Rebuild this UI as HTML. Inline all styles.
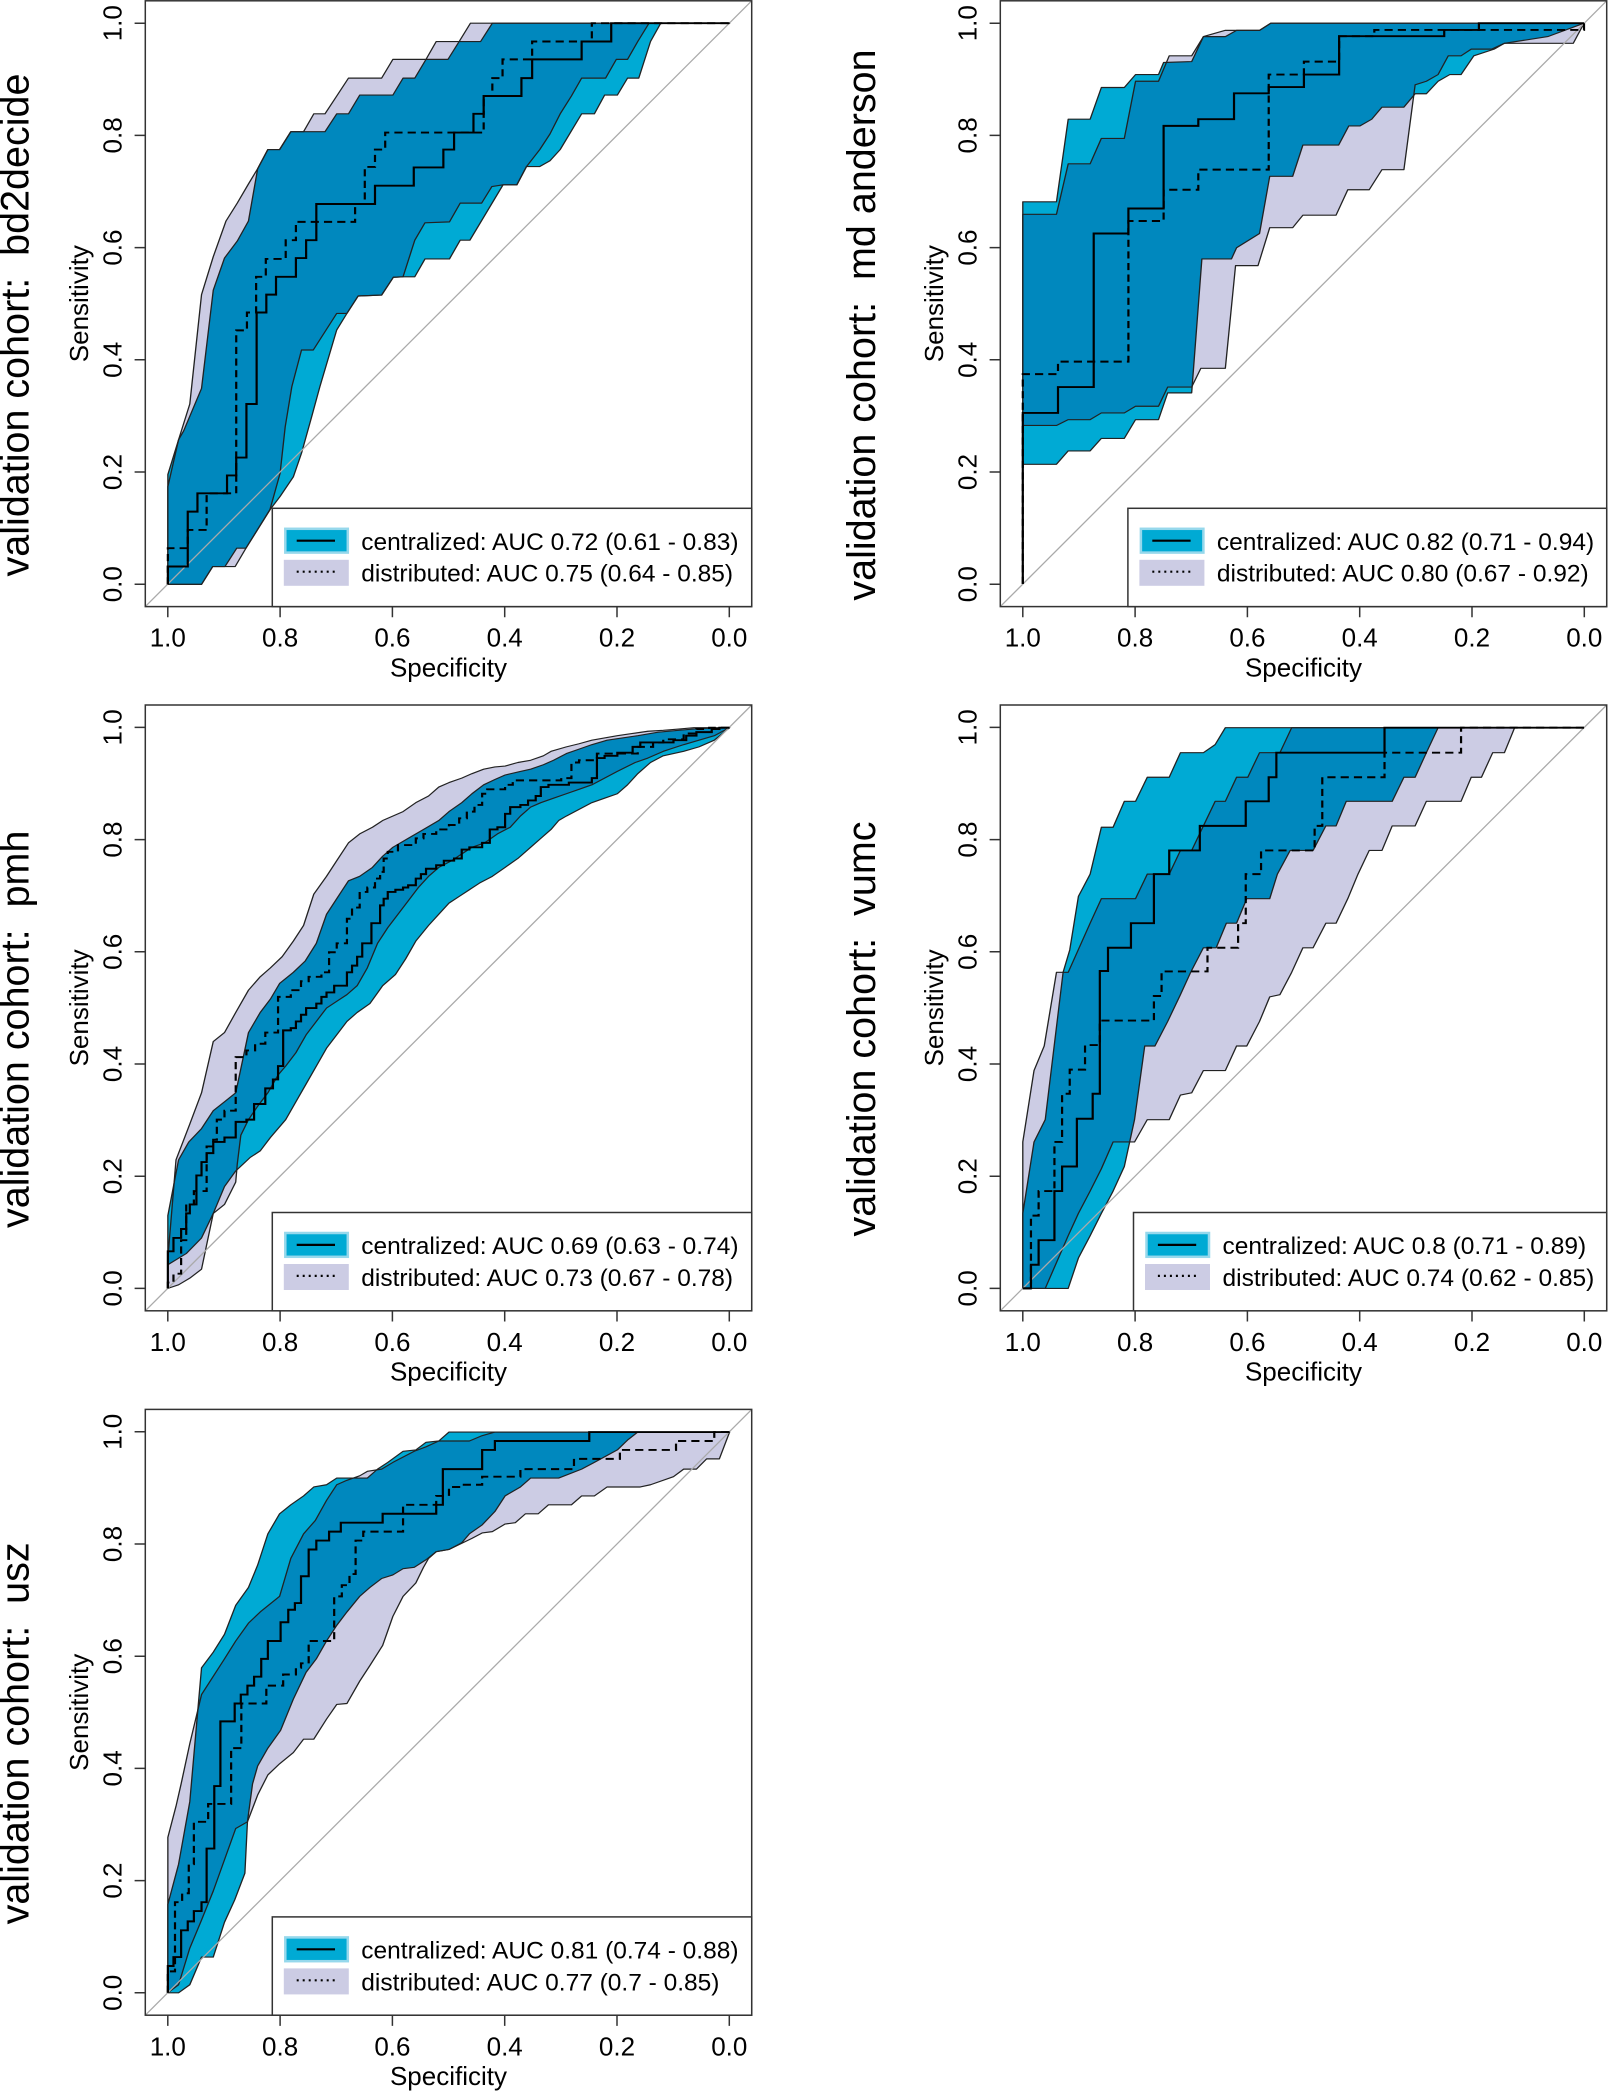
<!DOCTYPE html>
<html>
<head>
<meta charset="utf-8">
<style>
html,body{margin:0;padding:0;background:#fff;}
svg{display:block;}
text{font-family:"Liberation Sans",Arial,sans-serif;fill:#000;}
.tk{font-size:26px;}
.lg{font-size:24.5px;}
.big{font-size:39.5px;}
.bl{fill:none;stroke:#222;stroke-width:2.6;stroke-linejoin:round;}
.sl{fill:none;stroke:#000;stroke-width:4.3;}
.dl{fill:none;stroke:#000;stroke-width:4.3;stroke-dasharray:16 10;}
.lav{fill:#CCCCE4;}
.cya{fill:#00AAD4;}
.drk{fill:#0088BE;}
</style>
</head>
<body>
<svg width="1608" height="2091" viewBox="0 0 1608 2091" xmlns="http://www.w3.org/2000/svg">
<rect x="0" y="0" width="1608" height="2091" fill="#fff"/>
<defs>
<polygon id="c1" points="329,1063 350,985 360,965 395,870 418,650 440,578 465,540 487,495 505,378 525,335 548,335 570,295 637,295 660,255 683,255 705,213 770,213 790,175 813,175 835,133 878,133 900,93 942,93 965,52 1430,52 1295,52 1275,93 1252,175 1230,175 1210,213 1185,213 1165,255 1140,255 1098,335 1078,360 1058,373 1032,373 1013,414 986,414 921,538 902,538 881,580 833,580 813,620 790,620 771,621 748,661 702,663 680,702 660,739 627,866 611,933 591,1015 575,1068 549,1112 529,1142 482,1228 464,1228 441,1269 417,1269 395,1309 329,1309"/>
<polygon id="l1" points="329,1309 329,1090 350,985 372,905 395,660 418,575 443,495 465,455 487,412 505,378 525,335 548,335 570,295 595,295 615,255 637,255 660,215 683,175 748,175 770,133 835,133 855,93 900,93 922,52 1430,52 1272,52 1250,93 1230,133 1208,133 1187,175 1140,175 1120,215 1098,255 1078,300 1058,335 1032,373 1013,414 986,414 964,418 944,455 902,455 881,497 833,499 813,538 790,620 771,621 748,661 702,663 680,702 660,702 614,784 591,784 572,866 559,956 549,1060 529,1142 482,1228 461,1269 417,1269 395,1309"/>
<polygon id="c2" points="421,1040 421,452 487,452 510,267 553,267 575,196 620,196 642,167 687,167 697,140 752,138 775,82 818,82 840,68 885,68 907,52 1521,52 1450,82 1365,97 1345,110 1305,125 1280,167 1258,167 1235,182 1212,210 1190,210 1168,240 1125,240 1105,267 1082,282 1060,282 1040,325 970,325 950,395 905,395 885,523 840,555 830,580 772,580 752,880 705,880 687,940 642,940 620,982 575,982 553,1010 510,1010 487,1040"/>
<polygon id="l2" points="421,953 421,480 487,480 510,367 553,367 575,310 620,310 642,182 687,182 708,125 752,125 775,82 818,68 885,68 907,52 1521,52 1500,97 1435,97 1365,97 1340,110 1300,110 1280,125 1255,125 1235,167 1212,182 1190,190 1168,380 1125,380 1100,425 1058,425 1035,482 970,482 950,510 905,510 882,595 838,595 818,825 770,825 752,867 705,867 687,910 642,910 620,925 575,925 553,940 510,940 487,953"/>
<polygon id="c3" points="329,1265 329,1155 350,1030 370,990 395,960 418,920 440,900 462,880 487,745 510,700 530,670 548,635 575,610 598,585 620,545 640,480 660,445 683,405 705,395 730,375 750,350 770,330 800,310 830,290 860,270 880,250 905,230 925,210 948,190 970,178 990,168 1020,160 1040,155 1065,145 1085,135 1110,120 1135,110 1160,100 1190,90 1220,85 1250,80 1290,72 1330,68 1370,64 1430,62 1400,90 1370,105 1340,115 1300,125 1275,140 1250,165 1230,190 1210,210 1185,220 1160,230 1135,245 1110,260 1095,270 1080,290 1060,310 1040,330 1015,355 990,375 965,395 940,410 920,425 900,440 880,455 860,480 840,505 815,540 795,580 775,615 750,640 725,680 700,700 680,720 660,750 640,780 620,820 600,860 580,900 560,940 530,980 510,1010 490,1025 462,1055 440,1090 418,1150 395,1205 365,1240"/>
<polygon id="l3" points="329,1318 329,1250 345,1030 372,950 395,880 418,765 440,745 462,700 487,650 510,620 530,600 553,575 575,540 595,505 615,435 640,395 660,360 683,320 705,300 730,285 750,270 790,250 815,230 840,215 860,195 880,185 905,175 925,165 948,155 970,150 990,148 1015,140 1040,135 1065,125 1080,115 1110,105 1135,98 1160,90 1185,85 1210,80 1240,75 1270,70 1300,68 1330,65 1360,62 1430,62 1400,80 1370,90 1340,100 1300,115 1270,130 1245,140 1210,160 1185,175 1160,190 1135,200 1110,210 1085,220 1060,230 1040,240 1020,260 1000,285 975,300 950,320 925,330 905,345 885,360 860,375 840,395 820,420 800,450 780,480 760,510 740,545 720,600 700,640 680,660 660,675 640,690 620,720 600,750 580,790 560,820 545,840 525,880 505,910 487,940 472,975 465,1040 462,1080 440,1130 418,1150 395,1275 372,1295 350,1310"/>
<polygon id="c4" points="421,1318 421,1150 443,990 465,940 500,610 513,560 530,440 553,390 575,285 598,285 620,227 642,227 665,173 708,173 730,118 775,118 798,100 818,62 1521,62 1235,62 1212,118 1190,173 1168,173 1145,227 1055,227 1035,282 1015,282 990,337 945,337 920,390 905,445 860,445 840,500 820,500 800,555 775,555 750,610 730,660 705,720 680,775 660,775 640,940 620,1045 598,1100 575,1150 553,1200 530,1250 510,1318"/>
<polygon id="l4" points="421,1318 421,990 443,830 463,775 487,610 510,610 553,500 575,445 642,445 665,390 708,390 730,337 752,337 775,282 798,227 818,227 840,173 862,173 885,118 925,118 948,62 1521,62 1385,62 1365,118 1342,118 1320,173 1300,173 1280,227 1212,227 1190,282 1145,282 1125,337 1100,337 1078,390 1058,445 1035,500 1015,500 990,555 970,555 948,610 925,660 905,665 885,720 860,775 840,775 818,830 775,830 752,880 730,885 708,940 665,940 640,990 598,990 575,1050 553,1100 530,1150 510,1200 465,1318"/>
<polygon id="c5" points="329,1348 329,1150 350,1060 372,920 395,620 418,585 440,545 462,480 487,440 505,390 525,320 548,275 570,255 595,235 615,215 640,210 660,195 720,195 740,175 760,160 790,135 815,132 835,115 860,112 880,92 1430,92 1250,92 1230,110 1210,132 1165,160 1140,175 1095,195 1040,195 1020,215 990,235 970,270 945,300 920,320 905,340 880,355 855,360 835,378 812,395 790,398 770,412 748,420 725,440 705,460 680,495 660,525 640,560 620,600 600,630 575,690 550,760 525,800 505,840 495,880 485,965 480,1080 460,1140 440,1190 418,1268 395,1268 372,1330 350,1348"/>
<polygon id="l5" points="329,1348 329,1000 345,930 355,880 372,790 395,680 440,600 462,560 487,520 510,495 548,460 570,375 595,320 618,290 640,245 660,210 680,200 705,190 720,180 748,175 770,160 812,135 835,125 860,112 920,112 945,100 970,92 1430,92 1410,152 1385,152 1365,175 1340,175 1320,192 1275,210 1255,215 1190,215 1165,235 1140,235 1120,255 1075,255 1055,275 1030,275 1010,295 990,298 965,315 945,318 925,330 880,355 855,360 840,375 830,395 815,430 790,460 770,505 750,570 725,615 705,650 680,700 660,702 640,735 615,780 595,780 575,810 548,835 525,860 505,905 485,965 462,980 440,1050 418,1120 395,1185 372,1248 350,1330"/>
<clipPath id="k1"><use href="#c1"/></clipPath>
<clipPath id="k2"><use href="#c2"/></clipPath>
<clipPath id="k3"><use href="#c3"/></clipPath>
<clipPath id="k4"><use href="#c4"/></clipPath>
<clipPath id="k5"><use href="#c5"/></clipPath>
</defs>

<!-- ============ PANEL 1 ============ -->
<g transform="translate(0,0) scale(0.5102,0.44643)">
<use href="#l1" class="lav"/>
<use href="#c1" class="cya"/>
<use href="#l1" class="drk" clip-path="url(#k1)"/>
<use href="#l1" class="bl"/>
<use href="#c1" class="bl"/>
</g>
<line x1="145.3" y1="606.6" x2="751.7" y2="0.8" stroke="#aaa" stroke-width="1.3"/>
<g transform="translate(0,0) scale(0.5102,0.44643)">
<path class="sl" d="M329,1309 V1269 H368 V1146 H387 V1105 H445 V1065 H463 V1025 H483 V905 H503 V700 H522 V660 H541 V620 H580 V578 H600 V538 H620 V457 H735 V416 H811 V375 H869 V335 H890 V297 H928 V255 H948 V215 H1022 V175 H1043 V133 H1140 V93 H1198 V52 H1430"/>
<path class="dl" d="M329,1309 V1228 H368 V1187 H405 V1105 H463 V740 H484 V700 H502 V620 H521 V580 H560 V538 H580 V497 H696 V457 H715 V374 H735 V335 H755 V297 H948 V215 H965 V175 H985 V133 H1043 V93 H1160 V52 H1430"/>
</g>

<!-- ============ PANEL 2 ============ -->
<g transform="translate(808,0) scale(0.5102,0.44643)">
<use href="#l2" class="lav"/>
<use href="#c2" class="cya"/>
<use href="#l2" class="drk" clip-path="url(#k2)"/>
<use href="#l2" class="bl"/>
<use href="#c2" class="bl"/>
</g>
<line x1="1000.3" y1="606.6" x2="1606.7" y2="0.8" stroke="#aaa" stroke-width="1.3"/>
<g transform="translate(808,0) scale(0.5102,0.44643)">
<path class="sl" d="M421,1308 V925 H490 V867 H560 V523 H628 V467 H697 V282 H765 V267 H835 V209 H903 V195 H972 V167 H1041 V81 H1247 V67 H1315 V52 H1521"/>
<path class="dl" d="M421,1308 V838 H490 V810 H628 V495 H697 V425 H765 V380 H903 V167 H972 V138 H1041 V81 H1110 V67 H1521 V52"/>
</g>

<!-- ============ PANEL 3 ============ -->
<g transform="translate(0,700) scale(0.5102,0.44643)">
<use href="#l3" class="lav"/>
<use href="#c3" class="cya"/>
<use href="#l3" class="drk" clip-path="url(#k3)"/>
<use href="#l3" class="bl"/>
<use href="#c3" class="bl"/>
</g>
<line x1="145.3" y1="1310.8" x2="751.7" y2="705.0" stroke="#aaa" stroke-width="1.3"/>
<g transform="translate(0,700) scale(0.5102,0.44643)">
<path class="sl" d="M329,1318 V1235 H340 V1205 H355 V1185 H365 V1150 H372 V1130 H385 V1065 H395 V1035 H405 V1015 H418 V990 H440 V980 H462 V945 H483 V940 H498 V905 H520 V870 H535 V850 H545 V820 H555 V740 H570 V735 H580 V720 H590 V705 H600 V690 H620 V680 H630 V665 H640 V655 H655 V640 H680 V610 H690 V595 H700 V575 H710 V545 H728 V500 H745 V460 H752 V445 H760 V430 H775 V425 H790 V420 H800 V415 H815 V400 H825 V390 H835 V378 H855 V370 H870 V360 H890 V355 H905 V335 H920 V330 H945 V320 H960 V290 H975 V285 H990 V255 H1000 V240 H1020 V235 H1035 V225 H1050 V215 H1060 V195 H1075 V190 H1115 V185 H1160 V175 H1170 V130 H1185 V125 H1210 V118 H1240 V105 H1255 V95 H1320 V90 H1345 V80 H1365 V72 H1395 V65 H1410 V62 H1430"/>
<path class="dl" d="M329,1318 V1305 H340 V1285 H355 V1210 H365 V1130 H380 V1100 H405 V1000 H418 V985 H425 V940 H440 V920 H462 V800 H483 V785 H500 V770 H520 V745 H545 V665 H570 V650 H590 V630 H605 V620 H630 V610 H645 V565 H660 V545 H680 V490 H690 V465 H705 V430 H720 V420 H735 V400 H745 V385 H752 V355 H760 V340 H780 V325 H815 V310 H830 V300 H855 V290 H880 V280 H900 V265 H915 V250 H930 V235 H945 V210 H955 V200 H990 V190 H1005 V180 H1100 V175 H1120 V140 H1135 V135 H1170 V120 H1250 V105 H1280 V95 H1300 V88 H1340 V75 H1365 V65 H1390 V62 H1430"/>
</g>

<!-- ============ PANEL 4 ============ -->
<g transform="translate(808,700) scale(0.5102,0.44643)">
<use href="#l4" class="lav"/>
<use href="#c4" class="cya"/>
<use href="#l4" class="drk" clip-path="url(#k4)"/>
<use href="#l4" class="bl"/>
<use href="#c4" class="bl"/>
</g>
<line x1="1000.3" y1="1310.8" x2="1606.7" y2="705.0" stroke="#aaa" stroke-width="1.3"/>
<g transform="translate(808,700) scale(0.5102,0.44643)">
<path class="sl" d="M421,1318 H437 V1265 H452 V1210 H483 V1100 H498 V1045 H527 V938 H558 V882 H572 V607 H588 V555 H633 V500 H678 V390 H708 V337 H768 V282 H858 V227 H903 V173 H918 V118 H1130 V62 H1521"/>
<path class="dl" d="M421,1318 H437 V1155 H452 V1100 H483 V990 H498 V882 H513 V828 H543 V773 H572 V718 H678 V663 H693 V608 H783 V555 H843 V500 H858 V390 H888 V337 H993 V282 H1008 V173 H1130 V118 H1280 V62 H1521"/>
</g>

<!-- ============ PANEL 5 ============ -->
<g transform="translate(0,1391) scale(0.5102,0.44643)">
<use href="#l5" class="lav"/>
<use href="#c5" class="cya"/>
<use href="#l5" class="drk" clip-path="url(#k5)"/>
<use href="#l5" class="bl"/>
<use href="#c5" class="bl"/>
</g>
<line x1="145.3" y1="2015.2" x2="751.7" y2="1409.4" stroke="#aaa" stroke-width="1.3"/>
<g transform="translate(0,1391) scale(0.5102,0.44643)">
<path class="sl" d="M329,1348 V1288 H340 V1268 H355 V1208 H368 V1188 H380 V1165 H395 V1145 H405 V1025 H420 V885 H432 V740 H460 V700 H472 V680 H485 V660 H498 V640 H512 V600 H525 V560 H550 V518 H565 V490 H578 V475 H590 V415 H605 V355 H620 V335 H645 V315 H668 V295 H750 V275 H855 V255 H868 V175 H945 V132 H970 V112 H1155 V92 H1430"/>
<path class="dl" d="M329,1348 V1300 H343 V1145 H357 V1125 H370 V1060 H380 V965 H408 V925 H453 V800 H473 V700 H522 V660 H555 V635 H580 V620 H590 V610 H605 V560 H655 V460 H670 V435 H685 V410 H697 V335 H712 V315 H790 V255 H855 V235 H880 V215 H905 V210 H945 V192 H1020 V175 H1125 V152 H1215 V132 H1325 V112 H1400 V92 H1430"/>
</g>

<!-- ============ FRAMES, AXES, TEXT ============ -->
<g fill="none" stroke="#333" stroke-width="1.5">
<rect x="145.3" y="0.8" width="606.4" height="605.8"/>
<rect x="1000.3" y="0.8" width="606.4" height="605.8"/>
<rect x="145.3" y="705.0" width="606.4" height="605.8"/>
<rect x="1000.3" y="705.0" width="606.4" height="605.8"/>
<rect x="145.3" y="1409.4" width="606.4" height="605.8"/>
</g>

<!-- ticks -->
<g stroke="#333" stroke-width="1.5">
<!-- x ticks P1/P3/P5 -->
<path d="M167.8,606.6V617.3 M280.1,606.6V617.3 M392.4,606.6V617.3 M504.7,606.6V617.3 M617,606.6V617.3 M729.3,606.6V617.3"/>
<path d="M167.8,1310.8V1321.5 M280.1,1310.8V1321.5 M392.4,1310.8V1321.5 M504.7,1310.8V1321.5 M617,1310.8V1321.5 M729.3,1310.8V1321.5"/>
<path d="M167.8,2015.2V2025.9 M280.1,2015.2V2025.9 M392.4,2015.2V2025.9 M504.7,2015.2V2025.9 M617,2015.2V2025.9 M729.3,2015.2V2025.9"/>
<!-- x ticks P2/P4 -->
<path d="M1022.8,606.6V617.3 M1135.1,606.6V617.3 M1247.4,606.6V617.3 M1359.7,606.6V617.3 M1472,606.6V617.3 M1584.3,606.6V617.3"/>
<path d="M1022.8,1310.8V1321.5 M1135.1,1310.8V1321.5 M1247.4,1310.8V1321.5 M1359.7,1310.8V1321.5 M1472,1310.8V1321.5 M1584.3,1310.8V1321.5"/>
<!-- y ticks -->
<path d="M145.3,584.2H134.6 M145.3,472H134.6 M145.3,359.8H134.6 M145.3,247.6H134.6 M145.3,135.4H134.6 M145.3,23.2H134.6"/>
<path d="M1000.3,584.2H989.6 M1000.3,472H989.6 M1000.3,359.8H989.6 M1000.3,247.6H989.6 M1000.3,135.4H989.6 M1000.3,23.2H989.6"/>
<path d="M145.3,1288.4H134.6 M145.3,1176.2H134.6 M145.3,1064H134.6 M145.3,951.8H134.6 M145.3,839.6H134.6 M145.3,727.4H134.6"/>
<path d="M1000.3,1288.4H989.6 M1000.3,1176.2H989.6 M1000.3,1064H989.6 M1000.3,951.8H989.6 M1000.3,839.6H989.6 M1000.3,727.4H989.6"/>
<path d="M145.3,1992.8H134.6 M145.3,1880.6H134.6 M145.3,1768.4H134.6 M145.3,1656.2H134.6 M145.3,1544H134.6 M145.3,1431.8H134.6"/>
</g>

<!-- x tick labels -->
<g class="tk" text-anchor="middle">
<text x="167.8" y="646.7">1.0</text><text x="280.1" y="646.7">0.8</text><text x="392.4" y="646.7">0.6</text><text x="504.7" y="646.7">0.4</text><text x="617" y="646.7">0.2</text><text x="729.3" y="646.7">0.0</text>
<text x="1022.8" y="646.7">1.0</text><text x="1135.1" y="646.7">0.8</text><text x="1247.4" y="646.7">0.6</text><text x="1359.7" y="646.7">0.4</text><text x="1472" y="646.7">0.2</text><text x="1584.3" y="646.7">0.0</text>
<text x="167.8" y="1350.9">1.0</text><text x="280.1" y="1350.9">0.8</text><text x="392.4" y="1350.9">0.6</text><text x="504.7" y="1350.9">0.4</text><text x="617" y="1350.9">0.2</text><text x="729.3" y="1350.9">0.0</text>
<text x="1022.8" y="1350.9">1.0</text><text x="1135.1" y="1350.9">0.8</text><text x="1247.4" y="1350.9">0.6</text><text x="1359.7" y="1350.9">0.4</text><text x="1472" y="1350.9">0.2</text><text x="1584.3" y="1350.9">0.0</text>
<text x="167.8" y="2055.3">1.0</text><text x="280.1" y="2055.3">0.8</text><text x="392.4" y="2055.3">0.6</text><text x="504.7" y="2055.3">0.4</text><text x="617" y="2055.3">0.2</text><text x="729.3" y="2055.3">0.0</text>
<text x="448.5" y="676.5">Specificity</text>
<text x="1303.5" y="676.5">Specificity</text>
<text x="448.5" y="1380.7">Specificity</text>
<text x="1303.5" y="1380.7">Specificity</text>
<text x="448.5" y="2085.1">Specificity</text>
</g>

<!-- y tick labels (rotated) -->
<g class="tk" text-anchor="middle">
<text transform="translate(121.5,584.2) rotate(-90)">0.0</text><text transform="translate(121.5,472) rotate(-90)">0.2</text><text transform="translate(121.5,359.8) rotate(-90)">0.4</text><text transform="translate(121.5,247.6) rotate(-90)">0.6</text><text transform="translate(121.5,135.4) rotate(-90)">0.8</text><text transform="translate(121.5,23.2) rotate(-90)">1.0</text>
<text transform="translate(976.5,584.2) rotate(-90)">0.0</text><text transform="translate(976.5,472) rotate(-90)">0.2</text><text transform="translate(976.5,359.8) rotate(-90)">0.4</text><text transform="translate(976.5,247.6) rotate(-90)">0.6</text><text transform="translate(976.5,135.4) rotate(-90)">0.8</text><text transform="translate(976.5,23.2) rotate(-90)">1.0</text>
<text transform="translate(121.5,1288.4) rotate(-90)">0.0</text><text transform="translate(121.5,1176.2) rotate(-90)">0.2</text><text transform="translate(121.5,1064) rotate(-90)">0.4</text><text transform="translate(121.5,951.8) rotate(-90)">0.6</text><text transform="translate(121.5,839.6) rotate(-90)">0.8</text><text transform="translate(121.5,727.4) rotate(-90)">1.0</text>
<text transform="translate(976.5,1288.4) rotate(-90)">0.0</text><text transform="translate(976.5,1176.2) rotate(-90)">0.2</text><text transform="translate(976.5,1064) rotate(-90)">0.4</text><text transform="translate(976.5,951.8) rotate(-90)">0.6</text><text transform="translate(976.5,839.6) rotate(-90)">0.8</text><text transform="translate(976.5,727.4) rotate(-90)">1.0</text>
<text transform="translate(121.5,1992.8) rotate(-90)">0.0</text><text transform="translate(121.5,1880.6) rotate(-90)">0.2</text><text transform="translate(121.5,1768.4) rotate(-90)">0.4</text><text transform="translate(121.5,1656.2) rotate(-90)">0.6</text><text transform="translate(121.5,1544) rotate(-90)">0.8</text><text transform="translate(121.5,1431.8) rotate(-90)">1.0</text>
<text transform="translate(87.8,303.7) rotate(-90)">Sensitivity</text>
<text transform="translate(942.8,303.7) rotate(-90)">Sensitivity</text>
<text transform="translate(87.8,1007.9) rotate(-90)">Sensitivity</text>
<text transform="translate(942.8,1007.9) rotate(-90)">Sensitivity</text>
<text transform="translate(87.8,1712.3) rotate(-90)">Sensitivity</text>
</g>

<!-- big row labels -->
<g class="big" text-anchor="middle">
<text transform="translate(28.3,325) rotate(-90)">validation cohort:&#160; bd2decide</text>
<text transform="translate(875,325) rotate(-90)">validation cohort:&#160; md anderson</text>
<text transform="translate(28.3,1029.3) rotate(-90)">validation cohort:&#160; pmh</text>
<text transform="translate(875,1029) rotate(-90)">validation cohort:&#160; vumc</text>
<text transform="translate(28.3,1733.4) rotate(-90)">validation cohort:&#160; usz</text>
</g>

<!-- ============ LEGENDS ============ -->
<!-- P1 -->
<g>
<rect x="272.3" y="508.3" width="479.4" height="98.3" fill="#fff" stroke="#333" stroke-width="1.5"/>
<rect x="285.3" y="528.8" width="62.5" height="23.8" fill="#00AAD4" stroke="#96d8ec" stroke-width="2.5"/>
<rect x="283.8" y="559.8" width="65" height="26" fill="#CCCCE4"/>
<line x1="296.7" y1="540.7" x2="335" y2="540.7" stroke="#000" stroke-width="2.2"/>
<line x1="296.7" y1="571.7" x2="335" y2="571.7" stroke="#000" stroke-width="2.2" stroke-dasharray="2 4"/>
<text class="lg" x="361.3" y="550">centralized: AUC 0.72 (0.61 - 0.83)</text>
<text class="lg" x="361.3" y="581.7">distributed: AUC 0.75 (0.64 - 0.85)</text>
</g>
<!-- P2 -->
<g>
<rect x="1127.9" y="508.3" width="478.8" height="98.3" fill="#fff" stroke="#333" stroke-width="1.5"/>
<rect x="1140.9" y="528.8" width="62.5" height="23.8" fill="#00AAD4" stroke="#96d8ec" stroke-width="2.5"/>
<rect x="1139.4" y="559.8" width="65" height="26" fill="#CCCCE4"/>
<line x1="1152.3" y1="540.7" x2="1190.6" y2="540.7" stroke="#000" stroke-width="2.2"/>
<line x1="1152.3" y1="571.7" x2="1190.6" y2="571.7" stroke="#000" stroke-width="2.2" stroke-dasharray="2 4"/>
<text class="lg" x="1216.9" y="550">centralized: AUC 0.82 (0.71 - 0.94)</text>
<text class="lg" x="1216.9" y="581.7">distributed: AUC 0.80 (0.67 - 0.92)</text>
</g>
<!-- P3 -->
<g>
<rect x="272.3" y="1212.5" width="479.4" height="98.3" fill="#fff" stroke="#333" stroke-width="1.5"/>
<rect x="285.3" y="1233" width="62.5" height="23.8" fill="#00AAD4" stroke="#96d8ec" stroke-width="2.5"/>
<rect x="283.8" y="1264" width="65" height="26" fill="#CCCCE4"/>
<line x1="296.7" y1="1244.9" x2="335" y2="1244.9" stroke="#000" stroke-width="2.2"/>
<line x1="296.7" y1="1275.9" x2="335" y2="1275.9" stroke="#000" stroke-width="2.2" stroke-dasharray="2 4"/>
<text class="lg" x="361.3" y="1254.2">centralized: AUC 0.69 (0.63 - 0.74)</text>
<text class="lg" x="361.3" y="1285.9">distributed: AUC 0.73 (0.67 - 0.78)</text>
</g>
<!-- P4 -->
<g>
<rect x="1133.5" y="1212.5" width="473.2" height="98.3" fill="#fff" stroke="#333" stroke-width="1.5"/>
<rect x="1146.5" y="1233" width="62.5" height="23.8" fill="#00AAD4" stroke="#96d8ec" stroke-width="2.5"/>
<rect x="1145" y="1264" width="65" height="26" fill="#CCCCE4"/>
<line x1="1157.9" y1="1244.9" x2="1196.2" y2="1244.9" stroke="#000" stroke-width="2.2"/>
<line x1="1157.9" y1="1275.9" x2="1196.2" y2="1275.9" stroke="#000" stroke-width="2.2" stroke-dasharray="2 4"/>
<text class="lg" x="1222.5" y="1254.2">centralized: AUC 0.8 (0.71 - 0.89)</text>
<text class="lg" x="1222.5" y="1285.9">distributed: AUC 0.74 (0.62 - 0.85)</text>
</g>
<!-- P5 -->
<g>
<rect x="272.3" y="1916.9" width="479.4" height="98.3" fill="#fff" stroke="#333" stroke-width="1.5"/>
<rect x="285.3" y="1937.4" width="62.5" height="23.8" fill="#00AAD4" stroke="#96d8ec" stroke-width="2.5"/>
<rect x="283.8" y="1968.4" width="65" height="26" fill="#CCCCE4"/>
<line x1="296.7" y1="1949.3" x2="335" y2="1949.3" stroke="#000" stroke-width="2.2"/>
<line x1="296.7" y1="1980.3" x2="335" y2="1980.3" stroke="#000" stroke-width="2.2" stroke-dasharray="2 4"/>
<text class="lg" x="361.3" y="1958.6">centralized: AUC 0.81 (0.74 - 0.88)</text>
<text class="lg" x="361.3" y="1990.3">distributed: AUC 0.77 (0.7 - 0.85)</text>
</g>
</svg>
</body>
</html>
